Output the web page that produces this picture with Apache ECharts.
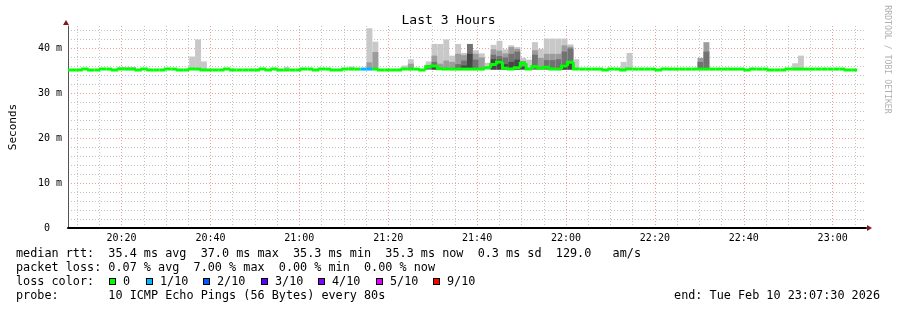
<!DOCTYPE html>
<html><head><meta charset="utf-8">
<script src="https://cdn.jsdelivr.net/npm/echarts@6/dist/echarts.min.js"></script>
<style>html,body{margin:0;padding:0;background:#fff}#c{width:897px;height:310px}</style>
</head><body><div id="c"></div>
<script>
// ---------------- data ----------------
const chartTitle = 'Last 3 Hours';
const axisName = 'Seconds';
const startTime = '2026-02-10T20:07:30Z';
const endTime = '2026-02-10T23:07:30Z';
const firstStep = '2026-02-10T20:06:50Z';   // RRD step grid origin
const stepSeconds = 80;
const yUnit = 'm';
const minorGridMinutes = 5;
const majorGridMinutes = 20;

// median rtt (ms) per 80 s step
const median = [
 35.2,35.2,35.2,35.4,35.2,35.2,35.4,35.4,35.2,35.4,
 35.4,35.4,35.2,35.4,35.2,35.2,35.2,35.4,35.4,35.2,
 35.2,35.4,35.4,35.2,35.2,35.2,35.2,35.4,35.2,35.2,
 35.2,35.2,35.2,35.4,35.2,35.4,35.2,35.2,35.2,35.2,
 35.4,35.4,35.2,35.4,35.4,35.2,35.2,35.4,35.4,35.4,
 35.4,35.4,35.4,35.2,35.2,35.2,35.2,35.4,35.4,35.4,
 35.2,35.9,36.1,35.5,35.4,35.4,35.4,35.4,35.4,35.4,
 35.4,35.7,36.4,37.0,35.6,35.4,35.7,36.7,35.4,36.0,
 35.6,35.8,35.4,35.4,36.1,36.9,35.4,35.4,35.4,35.4,
 35.4,35.2,35.4,35.4,35.2,35.4,35.4,35.4,35.4,35.4,
 35.2,35.4,35.4,35.4,35.4,35.4,35.4,35.4,35.4,35.4,
 35.4,35.4,35.4,35.4,35.4,35.2,35.4,35.4,35.4,35.2,
 35.2,35.2,35.4,35.4,35.4,35.4,35.4,35.4,35.4,35.4,
 35.4,35.4,35.2,35.2
];

// packet loss (x/10) for steps that lost packets
const lossSteps = [50, 51];
const lossLevel = [1, 1];

// smoke (ping spread, ms) for steps that show it
const smokeFloor = 35.3;
const smokeStep    = [9,10,11,21,22,23,37,48,51,52,57,58,61,62,63,64,65,66,67,68,69,70,71,72,73,74,75,76,77,78,79,80,81,82,83,84,85,86,94,95,107,108,123,124];
const smokeLight   = [35.9,35.9,35.9,38.2,42.0,37.1,35.9,36.0,44.5,41.5,36.2,37.6,37.1,41.0,41.0,42.0,38.4,41.0,39.0,null,39.6,38.9,36.8,40.8,41.7,39.8,40.7,40.3,37.9,37.5,41.4,39.9,42.2,42.2,42.2,42.2,40.9,37.6,37.0,39.0,null,null,36.7,38.4];
const smokeMid     = [null,null,null,null,null,null,null,null,36.9,39.2,null,36.6,null,38.4,36.6,37.3,37.0,38.8,38.5,null,38.8,38.0,null,39.8,39.5,38.9,40.3,39.9,37.2,null,39.6,37.9,38.8,38.8,38.8,40.7,40.4,null,null,null,37.9,41.4,null,null];
const smokeDark    = [null,null,null,null,null,null,null,null,null,null,null,null,36.3,37.0,null,null,null,36.5,37.3,41.0,37.5,null,null,38.6,38.3,38.0,38.8,39.3,null,null,38.6,null,37.4,37.4,37.6,39.3,40.0,null,null,null,37.0,39.3,null,null];
const smokeDarkest = [null,null,null,null,null,null,null,null,null,null,null,null,null,36.3,null,null,null,null,36.2,38.8,null,null,null,37.6,37.5,36.5,37.0,37.5,36.0,null,null,null,null,null,null,36.4,37.0,null,null,null,null,null,null,null];

const lossColors = ['#00ff00','#00b8ff','#0059ff','#5e00ff','#7e00ff','#dd00ff','#ff0000'];
const lossLabels = ['0','1/10','2/10','3/10','4/10','5/10','9/10'];
const statLines = [
  'median rtt:  35.4 ms avg  37.0 ms max  35.3 ms min  35.3 ms now  0.3 ms sd  129.0   am/s',
  'packet loss: 0.07 % avg  7.00 % max  0.00 % min  0.00 % now',
  'loss color:',
  'probe:       10 ICMP Echo Pings (56 Bytes) every 80s'
];
const endLabel = 'end: Tue Feb 10 23:07:30 2026';
const watermark = 'RRDTOOL / TOBI OETIKER';

// ---------------- chart ----------------
const MONO = '"DejaVu Sans Mono", monospace';
const t0 = Date.parse(startTime), t1 = Date.parse(endTime), tStep0 = Date.parse(firstStep);
const stepMs = stepSeconds * 1000;
const stepTime = k => tStep0 + k * stepMs;
const lossAt = k => { const i = lossSteps.indexOf(k); return i >= 0 ? lossLevel[i] : 0; };
const smokeLevels = [smokeLight, smokeMid, smokeDark, smokeDarkest];
const smokeColors = ['#c8c8c8', '#9c9c9c', '#727272', '#464646'];

const medianData = median.map((v, k) => [stepTime(k), v, k]);
const smokeData = smokeStep.map((k, i) => [stepTime(k), smokeFloor, i]);

function renderSmoke(params, api) {
  const i = api.value(2);
  const k = smokeStep[i];
  const t = stepTime(k);
  const base = api.coord([t, smokeFloor]);
  const w = api.size([stepMs, 0])[0];
  const children = [];
  smokeLevels.forEach((arr, j) => {
    const v = arr[i];
    if (v == null) return;
    const y = api.coord([t, v])[1];
    children.push({type: 'rect', shape: {x: base[0], y: y, width: w, height: base[1] - y},
      style: {fill: smokeColors[j]}});
  });
  return {type: 'group', children};
}

function renderMedian(params, api) {
  const k = api.value(2);
  const t = stepTime(k);
  const pts = [];
  if (k > 0) pts.push(api.coord([t, median[k - 1]]));
  pts.push(api.coord([t, median[k]]));
  pts.push(api.coord([t + stepMs, median[k]]));
  return {type: 'polyline', shape: {points: pts},
    style: {stroke: lossColors[lossAt(k)], lineWidth: 3, fill: null, lineJoin: 'miter', lineCap: 'butt'}};
}

const pad2 = n => (n < 10 ? '0' : '') + n;
const hhmm = v => { const d = new Date(v); return pad2(d.getUTCHours()) + ':' + pad2(d.getUTCMinutes()); };

// plot geometry
const PL = 66, PR = 866, PT = 26, PB = 228, W = 897, H = 310;
const pxPerMs = (PR - PL) / (t1 - t0);
// grid-line axes: min snapped down to a multiple of the interval, same px/ms scale, same right edge
function gridFor(intervalMs) {
  const a = Math.floor(t0 / intervalMs) * intervalMs;
  return {min: a, max: t1, left: PL - (t0 - a) * pxPerMs, right: W - PR};
}
const minorMs = minorGridMinutes * 60000, majorMs = majorGridMinutes * 60000;
const gMinor = gridFor(minorMs);
const gMajor = gridFor(majorMs);

const GRAY = '#c4c4c4', RED = '#f09a9a';

const graphics = [];
statLines.forEach((s, i) => graphics.push({type: 'text', x: 16, y: 254 + i * 14,
  style: {text: s, fontFamily: MONO, fontSize: 11.8, fill: '#000', verticalAlign: 'middle', align: 'left'}}));
graphics.push({type: 'text', x: 880, y: 296,
  style: {text: endLabel, fontFamily: MONO, fontSize: 11.8, fill: '#000', verticalAlign: 'middle', align: 'right'}});
const sqX = [109, 146, 203, 261, 318, 376, 433];
lossLabels.forEach((lab, i) => {
  graphics.push({type: 'rect', shape: {x: sqX[i], y: 278, width: 7, height: 7}, style: {fill: '#000'}});
  graphics.push({type: 'rect', shape: {x: sqX[i] + 1, y: 279, width: 5, height: 5}, style: {fill: lossColors[i]}});
  graphics.push({type: 'text', x: sqX[i] + 14, y: 282,
    style: {text: lab, fontFamily: MONO, fontSize: 11.8, fill: '#000', verticalAlign: 'middle', align: 'left'}});
});
graphics.push({type: 'text', x: 887, y: 59.5, rotation: -Math.PI / 2,
  style: {text: watermark, fontFamily: MONO, fontSize: 8.2, fill: '#b0b0b0', align: 'center', verticalAlign: 'middle'}});
graphics.push({type: 'polygon', shape: {points: [[63, 25], [69, 25], [66, 20]]}, style: {fill: '#7f1a1a'}});
graphics.push({type: 'polygon', shape: {points: [[867, 225], [867, 231], [872, 228]]}, style: {fill: '#7f1a1a'}});

const hiddenY = gi => ({type: 'value', gridIndex: gi, min: 0, max: 45, show: false});

const chart = echarts.init(document.getElementById('c'), null, {renderer: 'canvas'});
chart.setOption({
  animation: false,
  backgroundColor: '#fff',
  title: {text: chartTitle, left: 'center', top: 14, padding: 0,
    textStyle: {fontFamily: MONO, fontSize: 13, fontWeight: 'normal', color: '#000'}},
  grid: [
    {left: gMinor.left, right: gMinor.right, top: PT, bottom: H - PB},
    {left: gMajor.left, right: gMajor.right, top: PT, bottom: H - PB},
    {left: PL, right: W - PR, top: PT, bottom: H - PB}
  ],
  xAxis: [
    {type: 'value', gridIndex: 0, min: gMinor.min, max: gMinor.max, interval: minorMs,
      axisLine: {show: false}, axisTick: {show: false}, axisLabel: {show: false},
      splitLine: {show: true, showMinLine: false, showMaxLine: false, lineStyle: {color: GRAY, type: [1, 2], width: 1}}},
    {type: 'value', gridIndex: 1, min: gMajor.min, max: gMajor.max, interval: majorMs,
      axisLine: {show: false}, axisTick: {show: false},
      axisLabel: {show: true, margin: 5, fontFamily: MONO, fontSize: 10, color: '#000',
        formatter: v => (v >= t0 && v <= t1 && v % majorMs === 0 ? hhmm(v) : '')},
      splitLine: {show: true, showMinLine: false, showMaxLine: false, lineStyle: {color: RED, type: [1, 2], width: 1}}},
    {type: 'value', gridIndex: 2, min: t0, max: t1, position: 'bottom',
      axisLine: {show: true, onZero: false, lineStyle: {color: '#000', width: 2}},
      axisTick: {show: false}, axisLabel: {show: false}, splitLine: {show: false}}
  ],
  yAxis: [
    hiddenY(0), hiddenY(1),
    {type: 'value', gridIndex: 2, min: 0, max: 45, interval: 2,
      name: axisName, nameLocation: 'middle', nameGap: 49,
      nameTextStyle: {fontFamily: MONO, fontSize: 11, color: '#000'},
      axisLine: {show: true, lineStyle: {color: '#555', width: 1}},
      axisTick: {show: false},
      axisLabel: {margin: 6, fontFamily: MONO, fontSize: 10, color: '#000',
        formatter: v => (v === 0 ? '0  ' : (v % 10 === 0 ? v + ' ' + yUnit : ''))},
      splitLine: {show: true, showMaxLine: false, lineStyle: {color: [RED, GRAY, GRAY, GRAY, GRAY], type: [1, 2], width: 1}}}
  ],
  series: [
    {type: 'custom', name: 'smoke', xAxisIndex: 2, yAxisIndex: 2, renderItem: renderSmoke, data: smokeData,
      encode: {x: 0, y: 1}, clip: true, z: 2, silent: true},
    {type: 'custom', name: 'median', xAxisIndex: 2, yAxisIndex: 2, renderItem: renderMedian, data: medianData,
      encode: {x: 0, y: 1}, clip: true, z: 3, silent: true}
  ],
  graphic: graphics
});
</script></body></html>
